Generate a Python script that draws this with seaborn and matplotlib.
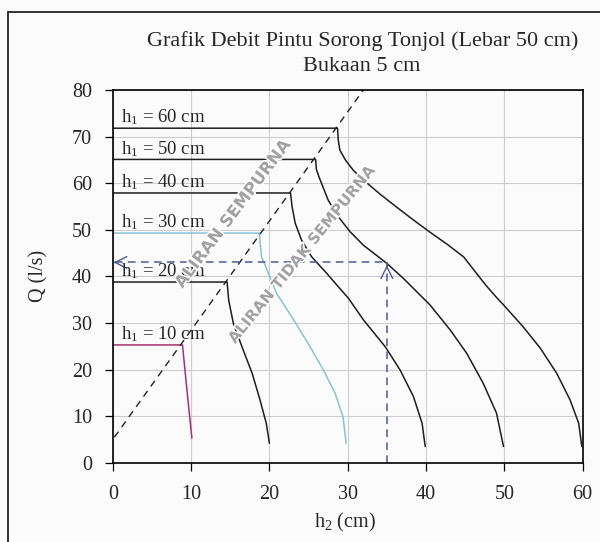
import numpy as np
import pandas as pd
import seaborn as sns
import matplotlib.pyplot as plt
import matplotlib.patheffects as pe
from matplotlib.lines import Line2D

# 1. Data
# ---------------------------

h1_levels = [10, 20, 30, 40, 50, 60]
q_flat = [25.3, 38.8, 49.3, 57.9, 65.1, 71.8]

# falling branch of each curve (h2 in cm, Q in l/s), starting at the corner
h2_h10 = [8.9, 9.3, 9.7, 10.1]
q_h10 = [25.3, 18.5, 11.8, 5.3]
h2_h20 = [14.6, 14.8, 15.4, 16.5, 17.8, 18.8, 19.6, 20.0]
q_h20 = [38.8, 34.9, 29.9, 24.9, 19.2, 13.5, 8.5, 4.2]
h2_h30 = [18.7, 18.8, 19.0, 19.7, 20.9, 23.1, 25.2, 26.9, 28.4, 29.4, 29.8]
q_h30 = [49.3, 47.5, 44.2, 41.4, 36.4, 30.7, 24.9, 19.9, 14.9, 9.9, 4.2]
h2_h40 = [22.7, 22.9, 23.3, 24.1, 25.4, 27.3, 29.0, 30.1, 32.0, 34.8, 36.7, 38.4, 39.5, 39.9]
q_h40 = [57.9, 54.9, 51.4, 47.8, 44.2, 40.7, 37.4, 35.3, 30.7, 24.9, 19.9, 14.2, 8.5, 3.5]
h2_h50 = [25.9, 26.0, 26.3, 26.7, 27.5, 28.8, 30.3, 32.0, 33.7, 35.0, 37.1, 40.5, 43.1,
          45.2, 47.3, 49.0, 49.9]
q_h50 = [65.1, 63.0, 61.5, 59.8, 56.4, 52.8, 49.6, 46.7, 44.5, 42.8, 39.6, 33.9, 28.5,
         23.5, 17.1, 10.7, 3.5]
h2_h60 = [28.7, 28.8, 29.0, 29.7, 30.7, 32.0, 34.1, 36.3, 38.4, 40.5, 42.7, 44.8, 46.2, 47.6,
          49.0, 49.9, 52.4, 54.6, 56.7, 58.4, 59.5, 59.9]
q_h60 = [71.8, 69.2, 67.1, 65.0, 62.8, 60.7, 57.7, 54.8, 52.1, 49.5, 46.9, 44.2, 41.2, 38.2,
         35.5, 33.9, 29.2, 24.6, 19.2, 13.5, 8.5, 3.5]

# boundary between full and partial flow
boundary_h2 = [0.2, 32.0]
boundary_q = [5.5, 80.0]

# reading example (blue arrows)
example_h2 = 35
example_q = 43

curve_h2 = [h2_h10, h2_h20, h2_h30, h2_h40, h2_h50, h2_h60]
curve_q = [q_h10, q_h20, q_h30, q_h40, q_h50, q_h60]

rows = []
for h1, qf, xs, ys in zip(h1_levels, q_flat, curve_h2, curve_q):
    rows.append((h1, 0.0, qf))
    for x, y in zip(xs, ys):
        rows.append((h1, x, y))
df = pd.DataFrame(rows, columns=['h1', 'h2', 'Q'])

# 2. Plot
# -------

sns.set_theme(style='whitegrid', rc={
    'grid.color': '#cdcdcd', 'grid.linewidth': 0.8,
    'axes.edgecolor': 'black', 'axes.linewidth': 1.2,
    'figure.facecolor': '#fbfbfb', 'axes.facecolor': '#fbfbfb',
})
plt.rcParams['font.family'] = ['Liberation Serif', 'DejaVu Serif']
plt.rcParams['mathtext.fontset'] = 'custom'
plt.rcParams['mathtext.rm'] = 'Liberation Serif'
plt.rcParams['mathtext.it'] = 'Liberation Serif:italic'

fig = plt.figure(figsize=(6, 5.42), dpi=100)
ax = fig.add_axes([0.188, 0.146, 0.783, 0.688])

palette = {10: '#a8306e', 20: '#1e1e1e', 30: '#86c3d6', 40: '#1e1e1e', 50: '#1e1e1e', 60: '#1e1e1e'}
sns.lineplot(data=df, x='h2', y='Q', hue='h1', units='h1', estimator=None, sort=False,
             palette=palette, linewidth=1.1, legend=False, ax=ax)

ax.plot(boundary_h2, boundary_q, color='#222222', lw=1.0, ls=(0, (5, 4)))

blue = '#4a5c9c'
ax.plot([0.3, example_h2], [example_q, example_q], color=blue, lw=1.1, ls=(0, (5, 3.5)))
ax.plot([example_h2, example_h2], [0, example_q], color=blue, lw=1.1, ls=(0, (5, 3.5)))
ax.annotate('', xy=(0.1, example_q), xytext=(0.6, example_q),
            arrowprops=dict(arrowstyle='->,head_length=0.7,head_width=0.35', color=blue, lw=1.0))
ax.annotate('', xy=(example_h2, example_q), xytext=(example_h2, example_q - 1.2),
            arrowprops=dict(arrowstyle='->,head_length=0.7,head_width=0.35', color=blue, lw=1.0))

for h1, qf in zip(h1_levels, q_flat):
    ax.text(1.1, qf + 2.3, r'h$_1$ = %d cm' % h1, fontsize=13.5, ha='left', va='center')

stroke = [pe.withStroke(linewidth=2.2, foreground='white')]
ax.text(15.3, 53.4, 'ALIRAN SEMPURNA', rotation=53, fontsize=12, fontweight='bold',
        family='DejaVu Sans', color='#a2a2a2', ha='center', va='center', path_effects=stroke)
ax.text(24.1, 44.6, 'ALIRAN TIDAK SEMPURNA', rotation=51, fontsize=11, fontweight='bold',
        family='DejaVu Sans', color='#a2a2a2', ha='center', va='center', path_effects=stroke)

ax.set_xlim(0, 60)
ax.set_ylim(0, 80)
ax.set_xticks(np.arange(0, 61, 10))
ax.set_yticks(np.arange(0, 81, 10))
ax.tick_params(axis='both', direction='out', length=6, width=0.9, color='black',
               labelsize=14.5, bottom=True, left=True)
ax.tick_params(axis='x', pad=10)
ax.tick_params(axis='y', pad=9)
for s in ax.spines.values():
    s.set_visible(True)
    s.set_color('black')

ax.set_xlabel(r'h$_2$ (cm)', fontsize=14.5)
ax.set_ylabel('Q (l/s)', fontsize=14.5)
ax.xaxis.set_label_coords(0.495, -0.13)
ax.yaxis.set_label_coords(-0.136, 0.5)

fig.text(0.605, 0.925, 'Grafik Debit Pintu Sorong Tonjol (Lebar 50 cm)', fontsize=16,
         ha='center', va='center')
fig.text(0.603, 0.878, 'Bukaan 5 cm', fontsize=16, ha='center', va='center')

# outer frame of the scanned figure
fig.add_artist(Line2D([8 / 600, 8 / 600], [0, 1 - 12 / 542], color='#222222', lw=1.3))
fig.add_artist(Line2D([8 / 600, 1], [1 - 12 / 542, 1 - 12 / 542], color='#222222', lw=1.3))

fig.savefig('out.png', dpi=100)
